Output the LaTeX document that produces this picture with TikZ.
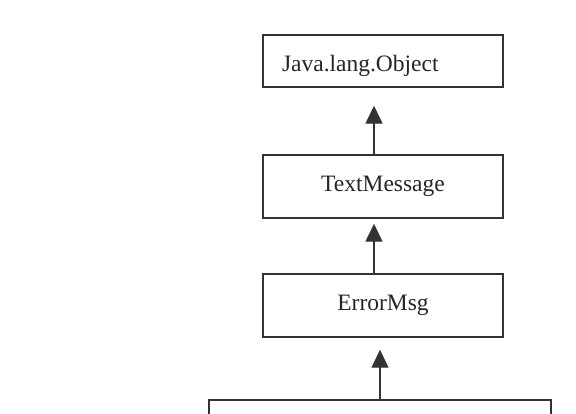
\documentclass[tikz,border=0pt]{standalone}
\usepackage{fontspec}
\setmainfont{Liberation Serif}
\usetikzlibrary{arrows.meta}
\begin{document}
\begin{tikzpicture}[x=1pt,y=-1pt,
  cls/.style={draw=black!80, line width=1.4pt, minimum width=240pt, inner sep=0pt,
    font=\fontsize{23.5}{26}\selectfont, text=black!85},
  inh/.style={-{Triangle[width=17pt,length=18pt]}, draw=black!80, line width=1.4pt}]
\useasboundingbox (0,0) rectangle (576,413);
\clip (0,0) rectangle (576,413);
\fill[white] (0,0) rectangle (576,413);
\node[cls, minimum height=52pt, text width=202pt, inner xsep=19pt, align=left,
  text height=22pt, text depth=2pt] (obj) at (383,61) {Java.lang.Object};
\node[cls, minimum height=63pt] (txt) at (383,186.5) {TextMessage};
\node[cls, minimum height=63pt] (err) at (383,305.5) {ErrorMsg};
\node[cls, minimum width=342pt, minimum height=60pt] (sub) at (380,430) {};
\draw[inh, shorten >=18pt] ([xshift=-9pt]txt.north) -- ([xshift=-9pt]obj.south);
\draw[inh, shorten >=5pt] ([xshift=-9pt]err.north) -- ([xshift=-9pt]txt.south);
\draw[inh, shorten >=12pt] (sub.north) -- (sub.north |- err.south);
\end{tikzpicture}
\end{document}
